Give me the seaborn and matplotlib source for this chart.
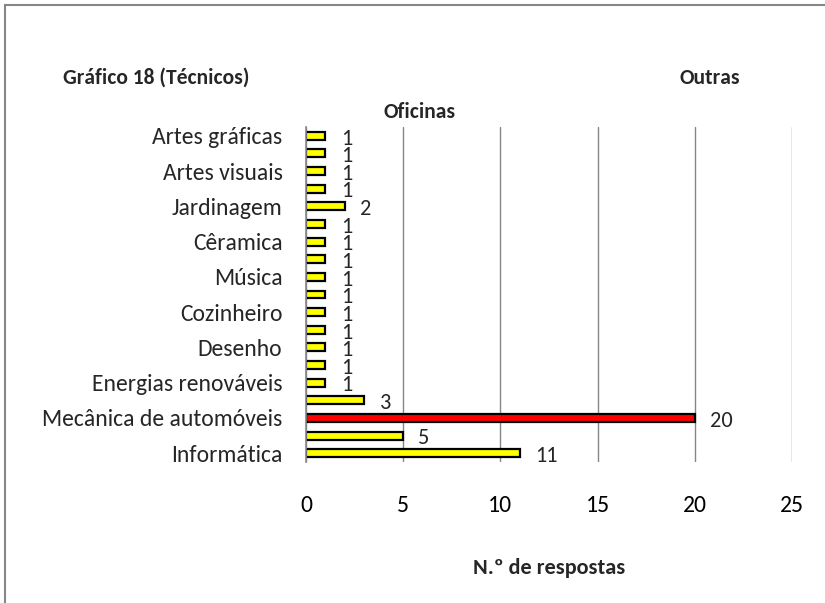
import matplotlib
matplotlib.use("Agg")
import matplotlib.pyplot as plt
import seaborn as sns
import pandas as pd
import numpy as np
from matplotlib.patches import Rectangle

sns.set_theme(style="white")
plt.rcParams['font.family'] = ['Carlito', 'Lato', 'DejaVu Sans']

# Data (top to bottom as drawn)
categories = ["c19", "c18", "c17", "c16", "c15", "c14", "c13", "c12", "c11", "c10",
              "c09", "c08", "c07", "c06", "c05", "c04", "c03", "c02", "c01"]
tick_labels = ["Artes gráficas", "", "Artes visuais", "", "Jardinagem", "", "Cêramica", "",
               "Música", "", "Cozinheiro", "", "Desenho", "", "Energias renováveis", "",
               "Mecânica de automóveis", "", "Informática"]
values = [1, 1, 1, 1, 2, 1, 1, 1, 1, 1, 1, 1, 1, 1, 1, 3, 20, 5, 11]
highlight = "c03"

df = pd.DataFrame({"cat": categories, "val": values})
palette = {c: ("#FF0000" if c == highlight else "#FFFF00") for c in categories}

fig = plt.figure(figsize=(8.25, 6.03), dpi=100)
ax = fig.add_axes([306/825, (603-462)/603, (792-306)/825, (462-127)/603])

sns.barplot(data=df, y="cat", x="val", hue="cat", palette=palette, order=categories,
            orient="h", width=0.45, edgecolor="black", linewidth=1.6, legend=False,
            ax=ax, saturation=1)

ax.set_xlim(0, 25)
ax.set_ylim(len(categories) - 0.5, -0.5)
ax.set_xticks([0, 5, 10, 15, 20, 25])
ax.set_xticklabels(["0", "5", "10", "15", "20", "25"], fontsize=17)
ax.tick_params(axis="x", length=0, pad=24, colors="black")
ax.set_yticks(range(len(categories)))
ax.set_yticklabels(tick_labels, fontsize=17)
ax.tick_params(axis="y", which="major", length=0, pad=17)
ax.set_yticks(np.arange(-0.5, len(categories), 1.0), minor=True)
ax.tick_params(axis="y", which="minor", length=6, width=1.2, color="#868686", direction="out")

ax.grid(axis="x", color="#868686", linewidth=1)
ax.set_axisbelow(True)
for s in ["top", "right", "bottom"]:
    ax.spines[s].set_visible(False)
ax.spines["left"].set_color("#868686")
ax.spines["left"].set_linewidth(1.2)

ax.set_ylabel("")
ax.set_xlabel("N.º de respostas", fontsize=16, fontweight="bold", labelpad=30)

for i, v in enumerate(values):
    ax.annotate(str(v), xy=(v, i), xytext=(11, -2), textcoords="offset points",
                ha="left", va="center", fontsize=16)

fig.text(156/825, 1 - 78/603, "Gráfico 18 (Técnicos)", fontsize=15.5, fontweight="bold",
         ha="center", va="center")
fig.text(710/825, 1 - 78/603, "Outras", fontsize=15.5, fontweight="bold", ha="center", va="center")
fig.text(420/825, 1 - 112/603, "Oficinas", fontsize=15.5, fontweight="bold", ha="center", va="center")

fig.patches.append(Rectangle((5/825, -0.1), 1.2, 1 - 5/603 + 0.1, transform=fig.transFigure,
                             fill=False, edgecolor="#868686", linewidth=1.5))

fig.savefig("out.png", dpi=100)
